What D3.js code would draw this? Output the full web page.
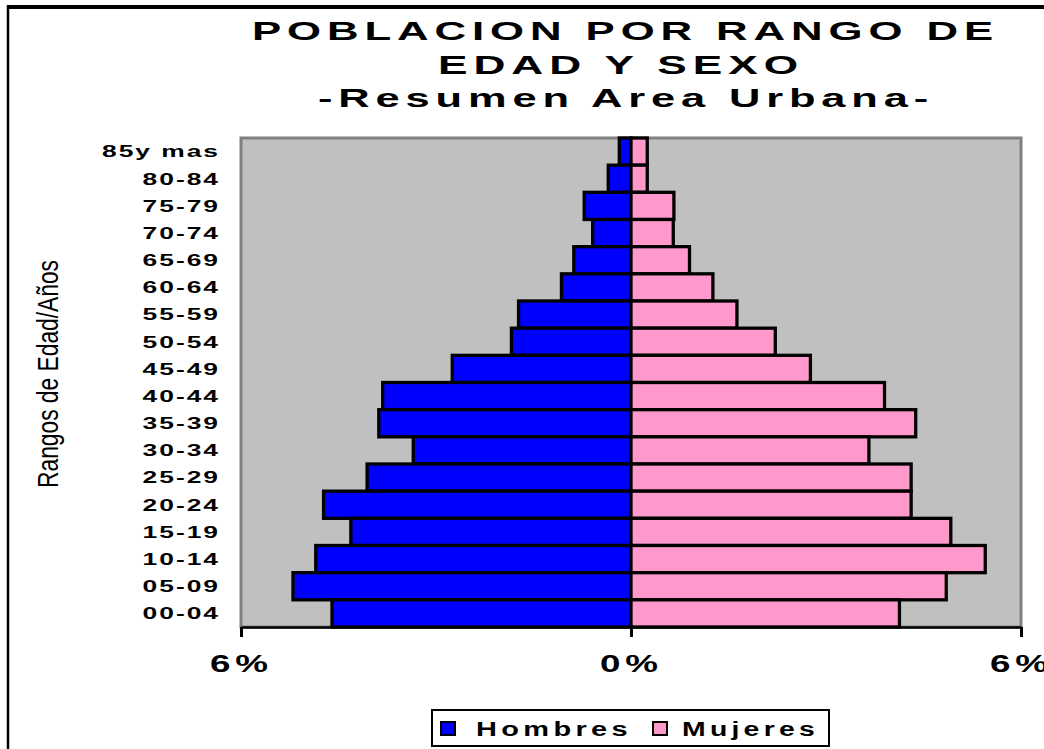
<!DOCTYPE html>
<html>
<head>
<meta charset="utf-8">
<script src="https://cdn.jsdelivr.net/npm/d3@7"></script>
<style>
  body { margin: 0; background: #fff; }
  svg { display: block; font-family: "Liberation Sans", Arial, sans-serif; }
</style>
</head>
<body>
<div id="main_container"></div>
<script>

var
  WIDTH = 1044,
  HEIGHT = 749;

// age groups, top to bottom
var categories = ["85y mas", "80-84", "75-79", "70-74", "65-69", "60-64", "55-59", "50-54", "45-49",
  "40-44", "35-39", "30-34", "25-29", "20-24", "15-19", "10-14", "05-09", "00-04"];
// % of population
var hombres = [0.18, 0.35, 0.72, 0.59, 0.88, 1.07, 1.73, 1.84, 2.75,
  3.82, 3.88, 3.35, 4.06, 4.73, 4.31, 4.85, 5.20, 4.60];
var mujeres = [0.25, 0.25, 0.66, 0.65, 0.90, 1.26, 1.63, 2.22, 2.76,
  3.90, 4.38, 3.66, 4.31, 4.31, 4.92, 5.45, 4.85, 4.13];
var tickValues = [-6, 0, 6];
var titleLines = ["POBLACION POR RANGO DE", "EDAD Y SEXO", "-Resumen Area Urbana-"];
var seriesNames = ["Hombres", "Mujeres"];

var plot = {left: 241, right: 1021, top: 138, bottom: 627};

function drawChart() {
  var svg = d3.select("#main_container")
    .append("svg")
    .attr("width", WIDTH)
    .attr("height", HEIGHT);

  // frame (only top and left are visible in the original)
  svg.append("line").attr("x1", 7).attr("x2", WIDTH).attr("y1", 7).attr("y2", 7)
    .attr("stroke", "#000").attr("stroke-width", 4);
  svg.append("line").attr("x1", 8).attr("x2", 8).attr("y1", 5).attr("y2", HEIGHT)
    .attr("stroke", "#000").attr("stroke-width", 2.5);

  drawTitle(svg);

  var x = d3.scaleLinear()
    .domain([-6, 6])
    .range([plot.left, plot.right]);

  var y = d3.scaleBand()
    .domain(categories)
    .range([plot.top, plot.bottom])
    .padding(0);

  // plot background
  svg.append("rect")
    .attr("x", plot.left)
    .attr("y", plot.top)
    .attr("width", plot.right - plot.left)
    .attr("height", plot.bottom - plot.top)
    .attr("fill", "#c0c0c0")
    .attr("stroke", "#808080")
    .attr("stroke-width", 3);

  var rows = categories.map(function(c, i) {
    return {cat: c, h: hombres[i], m: mujeres[i]};
  });

  svg.selectAll(".bar_h")
    .data(rows)
    .enter()
    .append("rect")
    .attr("class", "bar_h")
    .attr("x", function(d) { return x(-d.h); })
    .attr("y", function(d) { return y(d.cat); })
    .attr("width", function(d) { return x(0) - x(-d.h); })
    .attr("height", y.bandwidth())
    .attr("fill", "#0000ff")
    .attr("stroke", "#000")
    .attr("stroke-width", 3.3);

  svg.selectAll(".bar_m")
    .data(rows)
    .enter()
    .append("rect")
    .attr("class", "bar_m")
    .attr("x", x(0))
    .attr("y", function(d) { return y(d.cat); })
    .attr("width", function(d) { return x(d.m) - x(0); })
    .attr("height", y.bandwidth())
    .attr("fill", "#ff99cc")
    .attr("stroke", "#000")
    .attr("stroke-width", 3.3);

  // x axis
  var xAxis = svg.append("g")
    .attr("transform", "translate(0," + plot.bottom + ")")
    .call(d3.axisBottom(x)
      .tickValues(tickValues)
      .tickSize(10)
      .tickSizeOuter(0)
      .tickFormat(function(d) { return Math.abs(d) + "%"; }));
  xAxis.select(".domain").attr("stroke", "#000").attr("stroke-width", 2.5);
  xAxis.selectAll(".tick line").attr("stroke", "#000").attr("stroke-width", 3);
  xAxis.selectAll(".tick text")
    .attr("y", 45)
    .attr("dy", null)
    .attr("fill", "#000")
    .attr("font-size", 23)
    .attr("font-weight", "bold")
    .attr("letter-spacing", 3)
    .attr("font-family", "Liberation Sans, Arial, sans-serif")
    .attr("transform", "scale(1.6,1)");

  // y axis labels
  var sx = 1.65;
  var yAxis = svg.append("g")
    .attr("transform", "translate(" + plot.left + ",0)")
    .call(d3.axisLeft(y).tickSize(0).tickPadding(0));
  yAxis.select(".domain").remove();
  yAxis.selectAll(".tick text")
    .attr("x", -21 / sx)
    .attr("dy", "0.36em")
    .attr("fill", "#000")
    .attr("font-size", 16)
    .attr("font-weight", "bold")
    .attr("letter-spacing", 1.2)
    .attr("font-family", "Liberation Sans, Arial, sans-serif")
    .attr("transform", "scale(" + sx + ",1)");

  // y axis title
  svg.append("text")
    .attr("transform", "translate(58,374) rotate(-90)")
    .attr("text-anchor", "middle")
    .attr("font-family", "Liberation Sans Narrow, Liberation Sans, Arial, sans-serif")
    .attr("font-size", 30)
    .attr("textLength", 228)
    .attr("lengthAdjust", "spacingAndGlyphs")
    .attr("fill", "#000")
    .text("Rangos de Edad/Años");

  drawLegend(svg);
}

function drawTitle(svg) {
  var starts = [252, 438, 318];
  var widths = [747, 366, 616];
  var baselines = [40, 74, 107];
  for (var i = 0 ; i < titleLines.length ; i++) {
    svg.append("text")
      .attr("x", starts[i])
      .attr("y", baselines[i])
      .attr("font-size", 26)
      .attr("font-weight", "bold")
      .attr("letter-spacing", 3.5)
      .attr("textLength", widths[i])
      .attr("lengthAdjust", "spacingAndGlyphs")
      .attr("fill", "#000")
      .text(titleLines[i]);
  }
}

function drawLegend(svg) {
  var colors = ["#0000ff", "#ff99cc"];
  var markerX = [441, 653];
  var textX = [476, 682];
  var textW = [156, 137];

  svg.append("rect")
    .attr("x", 432)
    .attr("y", 710)
    .attr("width", 397)
    .attr("height", 36)
    .attr("fill", "#fff")
    .attr("stroke", "#000")
    .attr("stroke-width", 2);

  for (var i = 0 ; i < seriesNames.length ; i++) {
    svg.append("rect")
      .attr("x", markerX[i])
      .attr("y", 722)
      .attr("width", 14)
      .attr("height", 13)
      .attr("fill", colors[i])
      .attr("stroke", "#000")
      .attr("stroke-width", 2);
    svg.append("text")
      .attr("x", textX[i])
      .attr("y", 736)
      .attr("font-size", 20)
      .attr("font-weight", "bold")
      .attr("letter-spacing", 3)
      .attr("textLength", textW[i])
      .attr("lengthAdjust", "spacingAndGlyphs")
      .attr("fill", "#000")
      .text(seriesNames[i]);
  }
}

drawChart();
</script>
</body>
</html>
